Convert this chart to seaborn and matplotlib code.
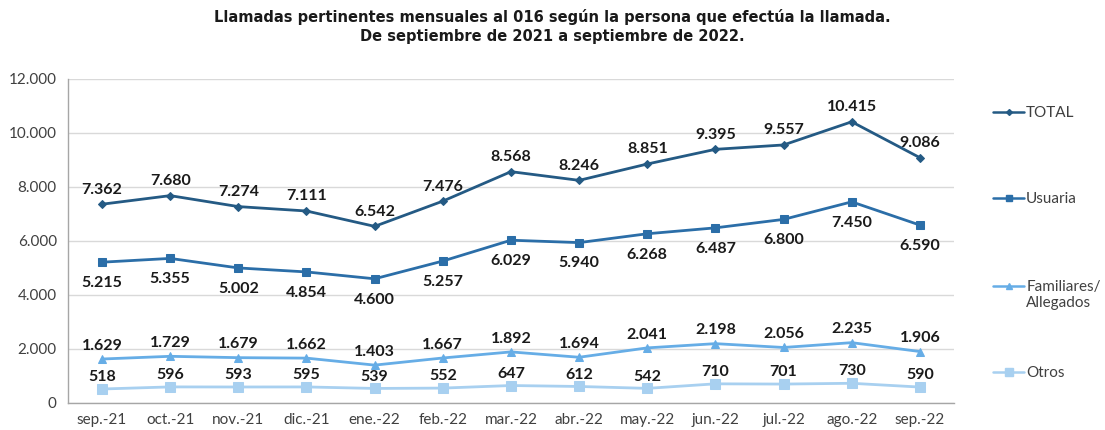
import matplotlib
matplotlib.use("Agg")
import matplotlib.pyplot as plt
import seaborn as sns
import pandas as pd
from matplotlib.lines import Line2D
from matplotlib.ticker import FuncFormatter, FixedLocator

months = ["sep.-21", "oct.-21", "nov.-21", "dic.-21", "ene.-22", "feb.-22", "mar.-22",
          "abr.-22", "may.-22", "jun.-22", "jul.-22", "ago.-22", "sep.-22"]
total = [7362, 7680, 7274, 7111, 6542, 7476, 8568, 8246, 8851, 9395, 9557, 10415, 9086]
usuaria = [5215, 5355, 5002, 4854, 4600, 5257, 6029, 5940, 6268, 6487, 6800, 7450, 6590]
familiares = [1629, 1729, 1679, 1662, 1403, 1667, 1892, 1694, 2041, 2198, 2056, 2235, 1906]
otros = [518, 596, 593, 595, 539, 552, 647, 612, 542, 710, 701, 730, 590]

series_names = ["TOTAL", "Usuaria", "Familiares/", "Otros"]
series_vals = [total, usuaria, familiares, otros]
colors = ["#245a84", "#2b6ea8", "#66ade6", "#a8d0f0"]
markers = ["D", "s", "^", "s"]
msizes = [4, 5.5, 6, 7]
label_offsets = [10.5, -15, 9.5, 8.5]

sns.set_theme(style="white")
plt.rcParams["font.family"] = ["Lato", "DejaVu Sans"]

fig = plt.figure(figsize=(11.05, 4.3), dpi=100)
ax = fig.add_axes([0.0615, 0.0628, 0.8018, 0.7535])

x = list(range(len(months)))
for name, vals, c, m, ms, off in zip(series_names, series_vals, colors, markers, msizes, label_offsets):
    df = pd.DataFrame({"x": x, "y": vals})
    sns.lineplot(data=df, x="x", y="y", ax=ax, color=c, marker=m, markersize=ms,
                 markeredgecolor=c, linewidth=2, legend=False)
    for xi, v in zip(x, vals):
        lbl = f"{v:,}".replace(",", ".")
        ax.annotate(lbl, (xi, v), xytext=(0, off), textcoords="offset points",
                    ha="center", va="center", fontsize=11.5, fontweight="bold", color="#1a1a1a")

ax.set_xlim(-0.5, len(months) - 0.5)
ax.set_ylim(0, 12000)
ax.set_yticks(range(0, 12001, 2000))
ax.yaxis.set_major_formatter(FuncFormatter(lambda v, p: f"{int(v):,}".replace(",", ".")))
ax.set_xticks(x)
ax.set_xticklabels(months)
ax.xaxis.set_minor_locator(FixedLocator([i - 0.5 for i in range(len(months) + 1)]))
ax.tick_params(axis="x", which="major", length=0, pad=7, labelsize=11, labelcolor="#404040")
ax.tick_params(axis="x", which="minor", length=5, color="#a6a6a6", width=1)
ax.tick_params(axis="y", length=0, pad=8, labelsize=11, labelcolor="#404040")
ax.set_xlabel("")
ax.set_ylabel("")
ax.grid(axis="y", color="#d9d9d9", linewidth=1)
ax.set_axisbelow(True)
for s in ["top", "right"]:
    ax.spines[s].set_visible(False)
for s in ["left", "bottom"]:
    ax.spines[s].set_color("#a6a6a6")
    ax.spines[s].set_linewidth(1)

# legend entries, one per series, at the reference's vertical positions
leg_y = [1 - 113 / 430, 1 - 199 / 430, 1 - 287 / 430, 1 - 373 / 430]
legs = []
for name, c, m, ms, yy in zip(series_names, colors, markers, msizes, leg_y):
    h = Line2D([0], [0], color=c, marker=m, markersize=ms * 0.75, linewidth=1.8)
    lg = fig.legend([h], [name], loc="center left", bbox_to_anchor=(0.899, yy),
                    frameon=False, handlelength=2.0, handletextpad=0.15, borderpad=0,
                    borderaxespad=0, fontsize=11)
    for t in lg.get_texts():
        t.set_color("#404040")
    legs.append(lg)

fig.canvas.draw()
fam_text = legs[2].get_texts()[0]
bb = fam_text.get_window_extent(renderer=fig.canvas.get_renderer())
fig.text(bb.x0 / fig.bbox.width, (bb.y0 - 16) / fig.bbox.height, "Allegados",
         ha="left", va="bottom", fontsize=11, color="#404040")

fig.text(0.5, 0.978, "Llamadas pertinentes mensuales al 016 según la persona que efectúa la llamada.\nDe septiembre de 2021 a septiembre de 2022.",
         ha="center", va="top", fontsize=10.5, fontweight="bold", color="#1a1a1a",
         linespacing=1.3, family=["DejaVu Sans"])

fig.savefig("out.png", dpi=100)
